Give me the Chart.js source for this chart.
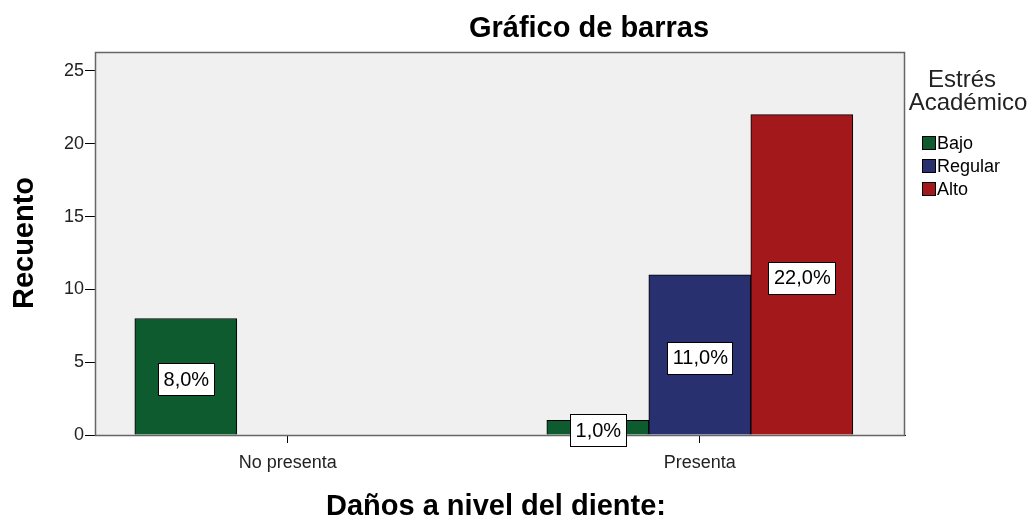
<!DOCTYPE html>
<html>
<head>
<meta charset="utf-8">
<script src="https://cdn.jsdelivr.net/npm/chart.js@4"></script>
<style>
  body { margin: 0; background: #fff; }
</style>
</head>
<body>
<canvas id="grafico" width="1036" height="518"></canvas>
<script>
// datos
const categorias = ['No presenta', 'Presenta'];
const niveles = ['Bajo', 'Regular', 'Alto'];
const bajo = [8, 1];
const regular = [0, 11];
const alto = [0, 22];
const porcentajes = [['8,0%', '1,0%'], ['', '11,0%'], ['', '22,0%']];
const ticksY = [0, 5, 10, 15, 20, 25];
const colores = ['#0e5b2f', '#28306f', '#a3181b'];

const fuente = '"Liberation Sans", Arial, sans-serif';

// fondo gris del área y borde
const fondoPlugin = {
    id: 'fondo',
    beforeDatasetsDraw(chart) {
        const a = chart.chartArea;
        const c = chart.ctx;
        c.save();
        c.fillStyle = '#f0f0f0';
        c.fillRect(a.left, a.top, a.right - a.left, a.bottom - a.top);
        c.strokeStyle = '#666';
        c.lineWidth = 1.5;
        c.strokeRect(a.left + 0.5, a.top + 0.5, a.right - a.left - 1, a.bottom - a.top);
        c.restore();
    }
};

// etiquetas de porcentaje, títulos y leyenda
const extrasPlugin = {
    id: 'extras',
    afterDraw(chart) {
        const c = chart.ctx;
        c.save();
        c.font = '20px ' + fuente;
        c.textAlign = 'center';
        c.textBaseline = 'middle';
        chart.data.datasets.forEach((ds, i) => {
            const meta = chart.getDatasetMeta(i);
            meta.data.forEach((bar, j) => {
                const txt = porcentajes[i][j];
                if (!txt) return;
                const yc = (bar.y + bar.base) / 2 + 3;
                const w = Math.round(c.measureText(txt).width + 10);
                const h = 32;
                const x0 = Math.round(bar.x - w / 2);
                const y0 = Math.round(yc - h / 2);
                c.fillStyle = '#fff';
                c.fillRect(x0, y0, w, h);
                c.strokeStyle = '#000';
                c.lineWidth = 1;
                c.strokeRect(x0 + 0.5, y0 + 0.5, w, h);
                c.fillStyle = '#000';
                c.fillText(txt, bar.x + 0.5, yc + 1);
            });
        });

        // títulos
        c.fillStyle = '#000';
        c.font = 'bold 29px ' + fuente;
        c.fillText('Gráfico de barras', 589, 29);
        c.fillText('Daños a nivel del diente:', 496, 507);
        c.save();
        c.translate(25, 243);
        c.rotate(-Math.PI / 2);
        c.fillText('Recuento', 0, 0);
        c.restore();

        // leyenda
        c.font = '24px ' + fuente;
        c.fillStyle = '#222';
        c.fillText('Estrés', 962, 80);
        c.fillText('Académico', 968, 103);
        c.font = '18px ' + fuente;
        c.textAlign = 'left';
        niveles.forEach((n, i) => {
            const y = 136 + i * 23;
            c.fillStyle = colores[i];
            c.fillRect(922, y, 14, 14);
            c.strokeStyle = '#000';
            c.lineWidth = 1;
            c.strokeRect(922.5, y + 0.5, 13, 13);
            c.fillStyle = '#000';
            c.fillText(n, 937, y + 8);
        });
        c.restore();
    }
};

const ctx = document.getElementById('grafico').getContext('2d');

const conjuntos = [bajo, regular, alto].map((serie, i) => ({
    label: niveles[i],
    data: serie.map((v, j) => ({ x: j, y: v })),
    backgroundColor: colores[i],
    borderColor: '#000',
    borderWidth: 1,
    borderSkipped: 'bottom',
    barThickness: 102
}));

const chart = new Chart(ctx, {
    type: 'bar',
    data: { datasets: conjuntos },
    options: {
        responsive: false,
        animation: false,
        layout: { padding: { top: 52, right: 131, left: 0, bottom: 0 } },
        plugins: {
            legend: { display: false },
            tooltip: { enabled: false }
        },
        scales: {
            x: {
                type: 'linear',
                offset: false,
                min: -0.468,
                max: 1.498,
                afterFit(s) { s.height = 83; },
                afterBuildTicks(s) { s.ticks = categorias.map((c, i) => ({ value: i })); },
                grid: { offset: false, drawOnChartArea: false, drawTicks: true, tickLength: 8, color: '#000' },
                border: { display: true, color: '#000' },
                ticks: {
                    color: '#222',
                    font: { size: 18, family: fuente },
                    padding: 9,
                    callback: v => categorias[v]
                }
            },
            y: {
                min: 0,
                max: 26.3,
                afterFit(s) { s.width = 95; },
                afterBuildTicks(s) { s.ticks = ticksY.map(v => ({ value: v })); },
                grid: { drawOnChartArea: false, drawTicks: true, tickLength: 10, color: '#000' },
                border: { display: true, color: '#000' },
                ticks: { color: '#222', font: { size: 18, family: fuente }, padding: 1 }
            }
        }
    },
    plugins: [fondoPlugin, extrasPlugin]
});
</script>
</body>
</html>
